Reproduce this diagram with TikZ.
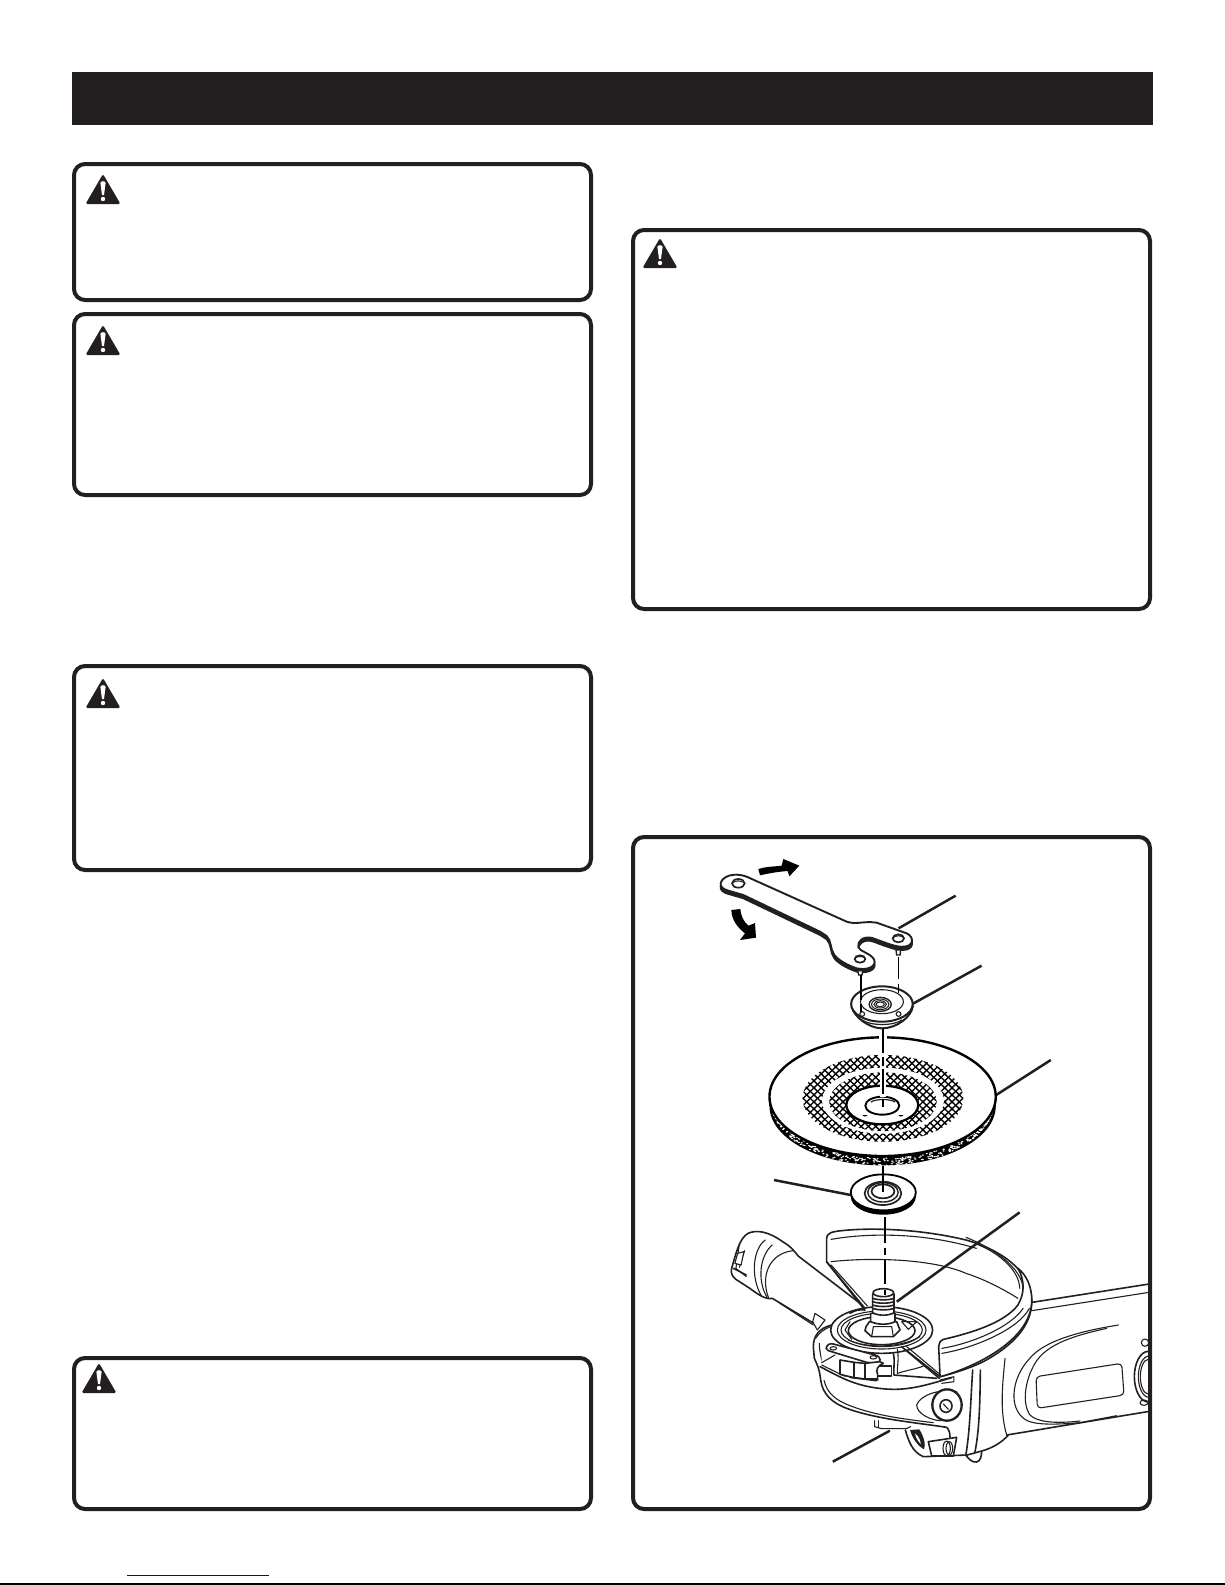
\documentclass[tikz,border=0pt]{standalone}
\definecolor{ink}{HTML}{231F20}
\tikzset{
  warnbox/.style={draw=ink,line width=2pt,rounded corners=5.5pt,fill=white},
  zs/.style 2 args={shift={(#1,#2)},x=0.16667pt,y=-0.16667pt},
  zb/.style 2 args={shift={(#1,#2)},x=0.173pt,y=-0.16667pt},
  leader/.style={draw=ink,line width=1.25pt},
  axisline/.style={draw=black,line width=1.2pt},
  pinline/.style={draw=black,line width=0.95pt},
  thin line/.style={draw=ink,line width=0.55pt,line join=round,line cap=round},
  mid line/.style={draw=ink,line width=0.8pt,line join=round,line cap=round},
  hatch/.style={draw=black,line width=0.68pt}
}
\newcommand{\warnicon}[2]{%
  \begin{scope}[shift={(#1,#2)}]
    \fill[ink,rounded corners=0.8pt] (0,0) -- (17.5,30) -- (-17.5,30) -- cycle;
    \fill[white] (-2.6,9) .. controls (-2.4,6.6) and (2.4,6.6) .. (2.6,9) -- (1,21) -- (-1,21) -- cycle;
    \fill[white] (0,25) circle [radius=2.2];
  \end{scope}}
\newcommand{\wrenchpath}{(62,100) .. controls (66,80) and (100,65) .. (140,80) -- (440,215) .. controls (470,225) and (490,212) .. (530,218) -- (620,250) .. controls (645,262) and (640,290) .. (610,290) .. controls (590,292) and (560,280) .. (520,265) .. controls (490,255) and (470,275) .. (475,292) .. controls (480,305) and (510,308) .. (522,328) .. controls (532,350) and (500,362) .. (470,355) .. controls (440,345) and (415,330) .. (403,315) .. controls (390,298) and (395,272) .. (380,258) -- (360,245) -- (130,135) -- (85,122) .. controls (70,118) and (60,110) .. (62,100) -- cycle}
\begin{document}
\begin{tikzpicture}[x=0.5pt,y=-0.5pt]
\useasboundingbox (0,0) rectangle (1225,1585);
\fill[white] (0,0) rectangle (1225,1585);
% header and page furniture
\fill[ink] (72,72) rectangle (1153,125);
\draw[blue!85!black,line width=0.55pt] (127,1575.5) -- (269,1575.5);
\draw[black,line width=0.8pt] (0,1584) -- (1225,1584);
% warning boxes
\draw[warnbox] (74,164) rectangle (591,300);
\draw[warnbox] (74,314) rectangle (591,495);
\draw[warnbox] (74,666) rectangle (591,870);
\draw[warnbox] (74,1358) rectangle (591,1509);
\draw[warnbox] (633,230) rectangle (1150,609);
\warnicon{103}{174}
\warnicon{103}{325}
\warnicon{103}{678}
\warnicon{99}{1363}
\warnicon{660}{238}
% figure box
\draw[warnbox] (633,837) rectangle (1150,1509);

\begin{scope}
\clip (636,840) rectangle (1148,1506);

% ===== grinder body (zoom 9 coordinates)
\begin{scope}[zs={1000}{1260}]
  \draw[mid line] (90,128) -- (460,70);
  \draw[thin line] (95,152) -- (460,95);
  \draw[mid line] (20,525) -- (460,452);
  \draw[thin line] (355,195) .. controls (250,212) and (130,240) .. (85,300) .. controls (40,350) and (25,430) .. (65,470) .. controls (85,492) and (130,497) .. (240,488) -- (350,467);
  \draw[thin line] (320,205) .. controls (230,225) and (140,250) .. (105,310) .. controls (75,360) and (65,430) .. (90,465) .. controls (110,485) and (160,492) .. (240,483);
  \draw[thin line,rounded corners=2pt] (108,350) -- (365,310) -- (372,405) -- (112,445) -- cycle;
  \draw[mid line] (445,350) ellipse [x radius=42,y radius=76];
  \draw[thin line] (447,350) ellipse [x radius=32,y radius=62];
  \draw[thin line] (445,350) ellipse [x radius=24,y radius=52];
  \draw[thin line] (435,248) circle [radius=11];
  \draw[thin line] (432,428) ellipse [x radius=12,y radius=8];
\end{scope}

% ===== handle (zoom 2 coordinates)
\begin{scope}[zb={620}{1180}]
  \fill[white] (322,268) .. controls (335,220) and (345,175) .. (370,160) .. controls (395,148) and (430,155) .. (470,185) .. controls (495,200) and (505,215) .. (515,228) -- (715,385) -- (570,440) -- (440,355) .. controls (420,360) and (395,340) .. (375,325) -- (335,298) .. controls (325,290) and (320,280) .. (322,268) -- cycle;
  \draw[mid line] (560,430) -- (440,355) .. controls (420,360) and (395,340) .. (375,325) -- (335,298) .. controls (325,290) and (320,280) .. (322,268) .. controls (335,220) and (345,175) .. (370,160) .. controls (395,148) and (430,155) .. (470,185) .. controls (495,200) and (505,215) .. (515,228) -- (700,375);
  \draw[thin line] (420,180) .. controls (385,205) and (375,290) .. (410,350);
  \draw[thin line] (440,195) .. controls (405,225) and (395,300) .. (425,352);
  \draw[thin line] (500,212) .. controls (430,220) and (405,290) .. (430,355);
  \draw[thin line] (345,190) -- (335,265) (360,212) -- (345,262) (335,265) -- (365,290);
  \draw[mid line] (328,265) -- (365,285);
  \draw[thin line,fill=white] (340,220) -- (358,215) -- (350,255) -- (332,250) -- cycle;
  % white core of the gear housing
  \fill[white] (920,480) -- (1115,480) -- (1115,765) -- (1000,830) -- (800,760) -- (580,600) -- (565,480) -- cycle;
\end{scope}

% ===== lower housing (zoom 8 coordinates)
\begin{scope}[zs={800}{1380}]
  \draw[mid line] (625,165) .. controls (605,188) and (575,205) .. (545,213);
  \draw[thin line] (224,122) -- (224,140) -- (245,146) -- (318,146) -- (332,140);
  \draw[thin line] (236,122) -- (236,142);
  \draw[mid line] (316,150) .. controls (325,180) and (335,215) .. (370,230) -- (500,225);
  \fill[ink] (330,150) -- (358,148) .. controls (372,170) and (378,195) .. (372,208) .. controls (350,195) and (338,175) .. (330,150) -- cycle;
  \fill[white] (345,160) .. controls (358,170) and (362,185) .. (362,192) .. controls (352,182) and (347,170) .. (345,160) -- cycle;
  % outer contour, continuing the one from the front of the housing
  \draw[mid line] (62,0) .. controls (68,45) and (100,70) .. (140,85) .. controls (230,118) and (350,128) .. (440,142) .. controls (448,150) and (450,160) .. (450,172);
  \draw[thin line] (72,0) .. controls (80,40) and (110,62) .. (150,77) .. controls (230,108) and (320,118) .. (400,128);
  \filldraw[fill=white,mid line] (385,185) -- (470,172) -- (460,228) -- (395,228) -- cycle;
  \filldraw[fill=white,thin line] (440,205) ellipse [x radius=11,y radius=22];
  \draw[thin line] (448,205) ellipse [x radius=10,y radius=20];
  \draw[thin line] (350,75) .. controls (360,45) and (420,25) .. (470,35) .. controls (485,75) and (470,115) .. (420,122) .. controls (390,120) and (350,100) .. (350,75) -- cycle;
  \filldraw[fill=white,line width=1.15pt,draw=ink] (441,75) ellipse [x radius=44,y radius=47];
  \filldraw[fill=white,mid line] (438,78) ellipse [x radius=18,y radius=19];
  \draw[thin line] (430,72) -- (445,88);
  \draw[mid line] (518,-30) .. controls (512,60) and (510,150) .. (498,222);
  \draw[mid line] (541,-30) .. controls (540,70) and (538,150) .. (525,215);
  \filldraw[fill=white,mid line] (498,226) .. controls (505,235) and (515,248) .. (530,246) .. controls (542,244) and (545,225) .. (545,213) -- cycle;
\end{scope}
% neck line
\begin{scope}[zs={1000}{1260}]
  \draw[thin line] (15,295) .. controls (8,370) and (-2,450) .. (20,525);
\end{scope}

% ===== front of the gear housing (zoom 7 coordinates)
\begin{scope}[zs={780}{1280}]
  \draw[thin line] (0,70) -- (100,135);
  \filldraw[fill=white,thin line] (98,125) -- (105,100) -- (135,120) -- (112,150) -- cycle;
  \fill[white] (155,135) .. controls (115,145) and (100,170) .. (100,200) -- (103,235) -- (125,300) -- (480,300) -- (480,150) -- cycle;
  \draw[mid line] (155,135) .. controls (115,145) and (100,170) .. (100,200) -- (103,235) .. controls (112,255) and (118,265) .. (122,300);
  \draw[mid line] (120,260) .. controls (180,290) and (230,325) .. (340,328) .. controls (400,328) and (450,312) .. (515,293);
  \draw[thin line] (107,175) .. controls (115,160) and (135,145) .. (152,140);
  \draw[thin line] (118,190) .. controls (118,215) and (125,240) .. (130,255);
  \draw[thin line] (150,255) -- (190,250) -- (195,290);
\end{scope}

% ===== guard (zoom 2 coordinates)
\begin{scope}[zb={620}{1180}]
  \filldraw[fill=white,mid line] (597,245) -- (597,175) .. controls (598,160) and (610,155) .. (640,152) .. controls (720,143) and (860,145) .. (1000,180) .. controls (1120,215) and (1188,285) .. (1190,360) .. controls (1192,440) and (1130,500) .. (1050,545) .. controls (1010,565) and (970,578) .. (925,590) -- (820,505) -- (700,380) -- cycle;
  \draw[thin line] (610,178) .. controls (720,158) and (880,158) .. (1030,205);
  \draw[thin line] (610,245) .. controls (720,232) and (900,235) .. (1000,280) .. controls (1060,300) and (1120,335) .. (1150,355);
  \draw[thin line] (1000,172) .. controls (1080,205) and (1165,265) .. (1165,330);
  \draw[thin line] (1030,192) .. controls (1100,220) and (1155,275) .. (1155,325);
  \filldraw[fill=white,mid line] (1150,265) .. controls (1170,300) and (1170,340) .. (1150,375) .. controls (1110,430) and (1010,460) .. (935,478) .. controls (925,482) and (921,490) .. (921,500) -- (925,590) .. controls (1000,570) and (1190,490) .. (1190,360) .. controls (1190,320) and (1175,285) .. (1150,265) -- cycle;
  \draw[thin line] (930,520) .. controls (1020,505) and (1150,450) .. (1183,385);
  \draw[thin line] (930,505) .. controls (1020,490) and (1130,440) .. (1165,385);
  \draw[mid line] (597,245) -- (708,385);
  \draw[thin line] (610,255) -- (715,378);
  \draw[thin line] (925,600) -- (965,590) -- (965,605) -- (930,610);
\end{scope}

% ===== flange, lock and spindle (zoom 7 coordinates)
\begin{scope}[zs={780}{1280}]
  \filldraw[fill=white,mid line] (305,150) ellipse [x radius=153,y radius=70];
  \draw[thin line] (305,150) ellipse [x radius=133,y radius=57];
  \draw[thin line] (305,150) ellipse [x radius=122,y radius=50];
  \draw[mid line] (305,152) ellipse [x radius=100,y radius=42];
  \draw[thin line] (205,180) .. controls (260,205) and (360,205) .. (420,170);
  \draw[thin line] (210,125) -- (195,150) -- (215,178) (365,125) -- (410,125) -- (385,148) -- cycle;
  \draw[mid line] (210,100) .. controls (225,90) and (240,88) .. (255,90);
  % lever
  \fill[white] (125,205) -- (300,225) -- (345,285) -- (295,300) -- (125,255) -- cycle;
  \filldraw[fill=white,mid line] (138,205) .. controls (142,192) and (150,190) .. (160,192) -- (285,225) .. controls (305,230) and (305,248) .. (288,250) -- (260,247) -- (145,212) -- cycle;
  \draw[thin line] (160,205) ellipse [x radius=10,y radius=5];
  \draw[thin line] (280,232) ellipse [x radius=10,y radius=5];
  \draw[thin line] (125,248) -- (165,225) (125,255) -- (180,282) -- (295,300);
  \filldraw[fill=white,mid line] (180,240) -- (180,283) -- (222,293) -- (222,247) -- cycle;
  \filldraw[fill=white,mid line] (222,247) -- (222,293) -- (255,297) -- (255,250) -- cycle;
  \filldraw[fill=white,mid line] (255,250) -- (255,297) -- (293,297) -- (293,283) .. controls (285,270) and (295,255) .. (310,250) -- (300,245) -- cycle;
  \draw[thin line] (300,258) -- (335,258) -- (335,288) -- (295,288);
  \draw[mid line] (210,292) -- (290,302);
  \draw[mid line] (340,220) .. controls (345,240) and (340,270) .. (342,285) -- (470,295);
  \draw[thin line] (352,208) .. controls (358,240) and (350,265) .. (352,280) .. controls (390,268) and (420,265) .. (435,255);
  \draw[mid line] (365,200) -- (478,295);
  \draw[thin line] (378,198) -- (482,285);
  % spindle
  \filldraw[fill=white,mid line] (258,140) -- (268,125) -- (350,125) -- (360,150) -- (340,170) -- (275,170) -- (255,152) -- cycle;
  \draw[thin line] (275,170) -- (280,140) (340,170) -- (335,140) (280,140) -- (335,140);
  \filldraw[fill=white,mid line] (272,100) -- (272,125) .. controls (295,135) and (325,135) .. (345,125) -- (345,100) -- cycle;
  \filldraw[fill=white,mid line] (278,42) -- (278,98) .. controls (295,108) and (325,108) .. (342,98) -- (342,42) -- cycle;
  \foreach \yy in {55,65,75,85}
    \draw[mid line] (278,\yy) .. controls (295,\yy+6) and (325,\yy+6) .. (342,\yy);
  \filldraw[fill=white,mid line] (310,38) ellipse [x radius=31,y radius=12];
\end{scope}

% ===== wrench (zoom 5 coordinates)
\begin{scope}[zs={700}{850}]
  \filldraw[ink,draw=ink,line width=0.95pt,line join=round,yshift=-1.6pt] \wrenchpath;
  \filldraw[fill=white,draw=ink,line width=0.95pt,line join=round] \wrenchpath;
  \filldraw[fill=white,draw=ink,line width=0.85pt] (115,100) ellipse [x radius=19,y radius=13];
  \fill[ink] (98,100) .. controls (100,90) and (125,86) .. (133,100) .. controls (120,92) and (108,93) .. (98,100) -- cycle;
  \filldraw[fill=white,draw=ink,line width=0.85pt] (595,265) ellipse [x radius=17,y radius=12];
  \filldraw[fill=white,draw=ink,line width=0.85pt] (480,327) ellipse [x radius=16,y radius=11];
  \fill[ink] (465,327) .. controls (468,315) and (492,313) .. (496,327) .. controls (488,319) and (472,319) .. (465,327) -- cycle;
  \fill[ink] (580,265) .. controls (583,253) and (607,252) .. (611,265) .. controls (603,257) and (587,257) .. (580,265) -- cycle;
  \filldraw[fill=white,draw=ink,line width=0.7pt] (588,300) -- (602,300) -- (600,315) -- (590,315) -- cycle;
  \filldraw[fill=white,draw=ink,line width=0.7pt] (473,362) -- (488,362) -- (486,375) -- (476,375) -- cycle;
  \fill[black] (175,57) .. controls (195,50) and (220,50) .. (245,47) -- (250,27) -- (298,47) -- (268,79) -- (263,63) .. controls (235,65) and (205,70) .. (180,76) -- cycle;
  \fill[black] (94,180) -- (121,177) .. controls (122,195) and (130,215) .. (146,227) -- (165,219) -- (168,263) -- (120,270) -- (135,250) .. controls (112,232) and (95,210) .. (94,180) -- cycle;
\end{scope}

% ===== flange nut, wheel, washer (zoom 1 coordinates)
\begin{scope}[zb={620}{820}]
  \draw[leader] (805,325) -- (970,227);
  \draw[leader] (845,552) -- (1045,437);
  \draw[leader] (1087,825) -- (1245,720);
  \draw[leader] (445,1080) -- (667,1125);
  % nut
  \filldraw[fill=white,draw=ink,line width=1pt] (670,560) .. controls (675,590) and (720,625) .. (757,625) .. controls (800,625) and (842,590) .. (846,560) -- cycle;
  \draw[draw=ink,line width=0.6pt] (700,600) .. controls (725,618) and (790,618) .. (815,600);
  \filldraw[fill=white,draw=ink,line width=1pt] (757,552) ellipse [x radius=89,y radius=53];
  \draw[ink,line width=0.55pt] (757,545) ellipse [x radius=62,y radius=36];
  \filldraw[fill=white,draw=ink,line width=0.7pt] (752,553) ellipse [x radius=32,y radius=21];
  \foreach \r/\q in {25/16,18/11,12/7}
    \draw[ink,line width=0.5pt] (752,553) ellipse [x radius=\r,y radius=\q];
  \draw[ink,line width=0.55pt] (700,582) circle [radius=7];
  \draw[ink,line width=0.55pt] (805,582) circle [radius=7];
  % wheel
  \fill[black] (759,858) ellipse [x radius=327,y radius=178];
  \fill[black] (432,840) rectangle (1086,858);
  \pgfmathsetseed{7}
  \foreach \a in {1,...,330}{
    \pgfmathsetmacro{\ang}{6+168*rnd}
    \pgfmathsetmacro{\ff}{rnd}
    \pgfmathsetmacro{\xx}{759+322*cos(\ang)}
    \pgfmathsetmacro{\yy}{830+178*sin(\ang)+6+(8+14*sin(\ang))*\ff}
    \fill[white] (\xx,\yy) ellipse [x radius=3.4,y radius=2.1];
  }
  \filldraw[fill=white,draw=black,line width=1.2pt] (759,830) ellipse [x radius=327,y radius=178];
  % hatch rings
  \begin{scope}
    \clip (760,835) ellipse [x radius=232,y radius=130];
    \foreach \k in {-36,...,36}{
      \draw[hatch] (760+\k*21-200,635) -- (760+\k*21+200,1035);
      \draw[hatch] (760+\k*21+200,635) -- (760+\k*21-200,1035);
    }
  \end{scope}
  \fill[white] (760,842) ellipse [x radius=176,y radius=99];
  \begin{scope}
    \clip (760,845) ellipse [x radius=155,y radius=88];
    \foreach \k in {-36,...,36}{
      \draw[hatch] (760+\k*21-200,635) -- (760+\k*21+200,1035);
      \draw[hatch] (760+\k*21+200,635) -- (760+\k*21-200,1035);
    }
  \end{scope}
  \filldraw[fill=white,draw=black,line width=1.15pt] (758,855) ellipse [x radius=104,y radius=58];
  \draw[black,line width=0.95pt] (758,857) ellipse [x radius=49,y radius=27];
  \draw[ink,line width=0.6pt] (725,846) .. controls (740,836) and (780,836) .. (795,846);
  \fill[black] (708,887) ellipse [x radius=7,y radius=2];
  \fill[black] (812,887) ellipse [x radius=7,y radius=2];
  % axis through wheel
  \fill[white] (748,645) rectangle (772,665);
  \fill[white] (752,700) rectangle (768,830);
  \draw[axisline] (760,625) -- (760,698) (760,710) -- (760,738) (760,748) -- (760,822) (760,838) -- (760,860);
  \draw[pinline] (697,465) -- (697,540) (697,552) -- (697,576);
  \draw[pinline] (805,410) -- (805,478) (805,492) -- (805,520);
  % washer
  \fill[black] (761,1130) ellipse [x radius=94,y radius=54];
  \filldraw[fill=white,draw=black,line width=0.9pt] (761,1117) ellipse [x radius=94,y radius=54];
  \filldraw[fill=white,draw=ink,line width=0.85pt] (760,1120) ellipse [x radius=53,y radius=35];
  \draw[ink,line width=0.7pt] (760,1117) ellipse [x radius=44,y radius=29];
  \filldraw[fill=white,draw=ink,line width=0.85pt] (760,1114) ellipse [x radius=33,y radius=21];
  \draw[axisline] (760,1037) -- (760,1115);
\end{scope}

% ===== lower axis and leaders (zoom 2 coordinates)
\begin{scope}[zb={620}{1180}]
  \draw[axisline] (765,112) -- (765,188) (765,203) -- (765,226) (765,240) -- (765,312) (765,330) -- (765,344);
  \draw[leader] (800,365) -- (1155,97);
  \draw[leader] (780,752) -- (615,845);
\end{scope}
\end{scope}
\end{tikzpicture}
\end{document}
